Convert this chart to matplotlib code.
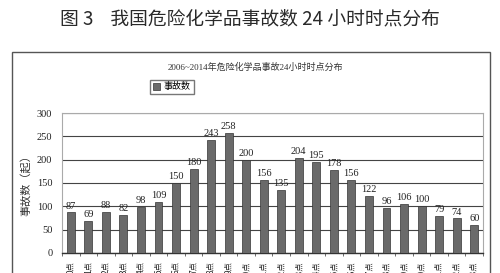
import matplotlib
matplotlib.use("Agg")
import matplotlib.pyplot as plt
from matplotlib.patches import Rectangle, Patch
import numpy as np

plt.rcParams['font.family'] = ['Noto Sans CJK SC', 'DejaVu Sans']

# data
hours = [f"{h}点" for h in range(24)]
counts = [87, 69, 88, 82, 98, 109, 150, 180, 243, 258, 200, 156,
          135, 204, 195, 178, 156, 122, 96, 106, 100, 79, 74, 60]
yticks = [0, 50, 100, 150, 200, 250, 300]

fig_title = "图 3    我国危险化学品事故数 24 小时时点分布"
chart_title = "2006~2014年危险化学品事故24小时时点分布"
legend_label = "事故数"
ylabel = "事故数（起）"

serif = ['Liberation Serif', 'Noto Sans CJK SC']
bar_color = '#6a6a6a'

fig = plt.figure(figsize=(5, 2.73), dpi=100)
fig.patch.set_facecolor('white')

# outer title
fig.text(250 / 500, 1 - 19 / 273, fig_title, ha='center', va='center',
         fontsize=13.5, color='#2a2a2a', fontweight='medium')

# chart frame (cut off at the bottom like the reference)
frame = Rectangle((12 / 500, -0.2), (490 - 12) / 500, 0.2 + (273 - 52) / 273,
                  transform=fig.transFigure, fill=False, edgecolor='#555555',
                  linewidth=1.0, clip_on=False)
fig.patches.append(frame)

ax = fig.add_axes([62 / 500, 20 / 273, (483 - 62) / 500, (253 - 113) / 273])
x = np.arange(len(counts))
ax.bar(x, counts, width=0.45, color=bar_color, edgecolor='#333333',
       linewidth=0.5, zorder=3)

for xi, v in zip(x, counts):
    ax.text(xi, v + 4, str(v), ha='center', va='bottom', fontsize=7.5,
            family=serif, color='#222222', zorder=4)

ax.set_xlim(-0.5, len(counts) - 0.5)
ax.set_ylim(0, 300)
ax.set_yticks(yticks)
ax.set_yticklabels([str(t) for t in yticks], family=serif, fontsize=7.5,
                   color='#222222')
ax.yaxis.grid(True, color='#444444', linewidth=0.8, zorder=0)
ax.tick_params(axis='y', length=0, pad=7)

ax.set_xticks(x)
ax.set_xticklabels(hours, rotation=90, fontsize=6, color='#222222')
ax.set_xticks(np.arange(-0.5, len(counts), 1), minor=True)
ax.tick_params(axis='x', which='major', length=0, pad=6)
ax.tick_params(axis='x', which='minor', length=2, direction='out',
               color='#555555')

for side in ['top', 'right', 'left']:
    ax.spines[side].set_color('#aaaaaa')
    ax.spines[side].set_linewidth(0.8)
ax.spines['bottom'].set_color('#333333')
ax.spines['bottom'].set_linewidth(1.0)

ax.set_ylabel(ylabel, fontsize=8, color='#333333')
ax.yaxis.set_label_coords(-(62 - 31) / 421, 0.5)

# chart inner title
fig.text(255 / 500, 1 - 67 / 273, chart_title, ha='center', va='center',
         fontsize=6.5, family=serif, color='#333333')

# legend
handle = Patch(facecolor=bar_color, edgecolor='#333333', linewidth=0.5)
fig.legend([handle], [legend_label], loc='center',
           bbox_to_anchor=(172 / 500, 1 - 87 / 273), fontsize=6.5,
           frameon=True, fancybox=False, edgecolor='#555555',
           handlelength=0.8, handleheight=0.8, handletextpad=0.4,
           borderpad=0.3, borderaxespad=0)

fig.savefig('out.png', dpi=100, facecolor='white')
